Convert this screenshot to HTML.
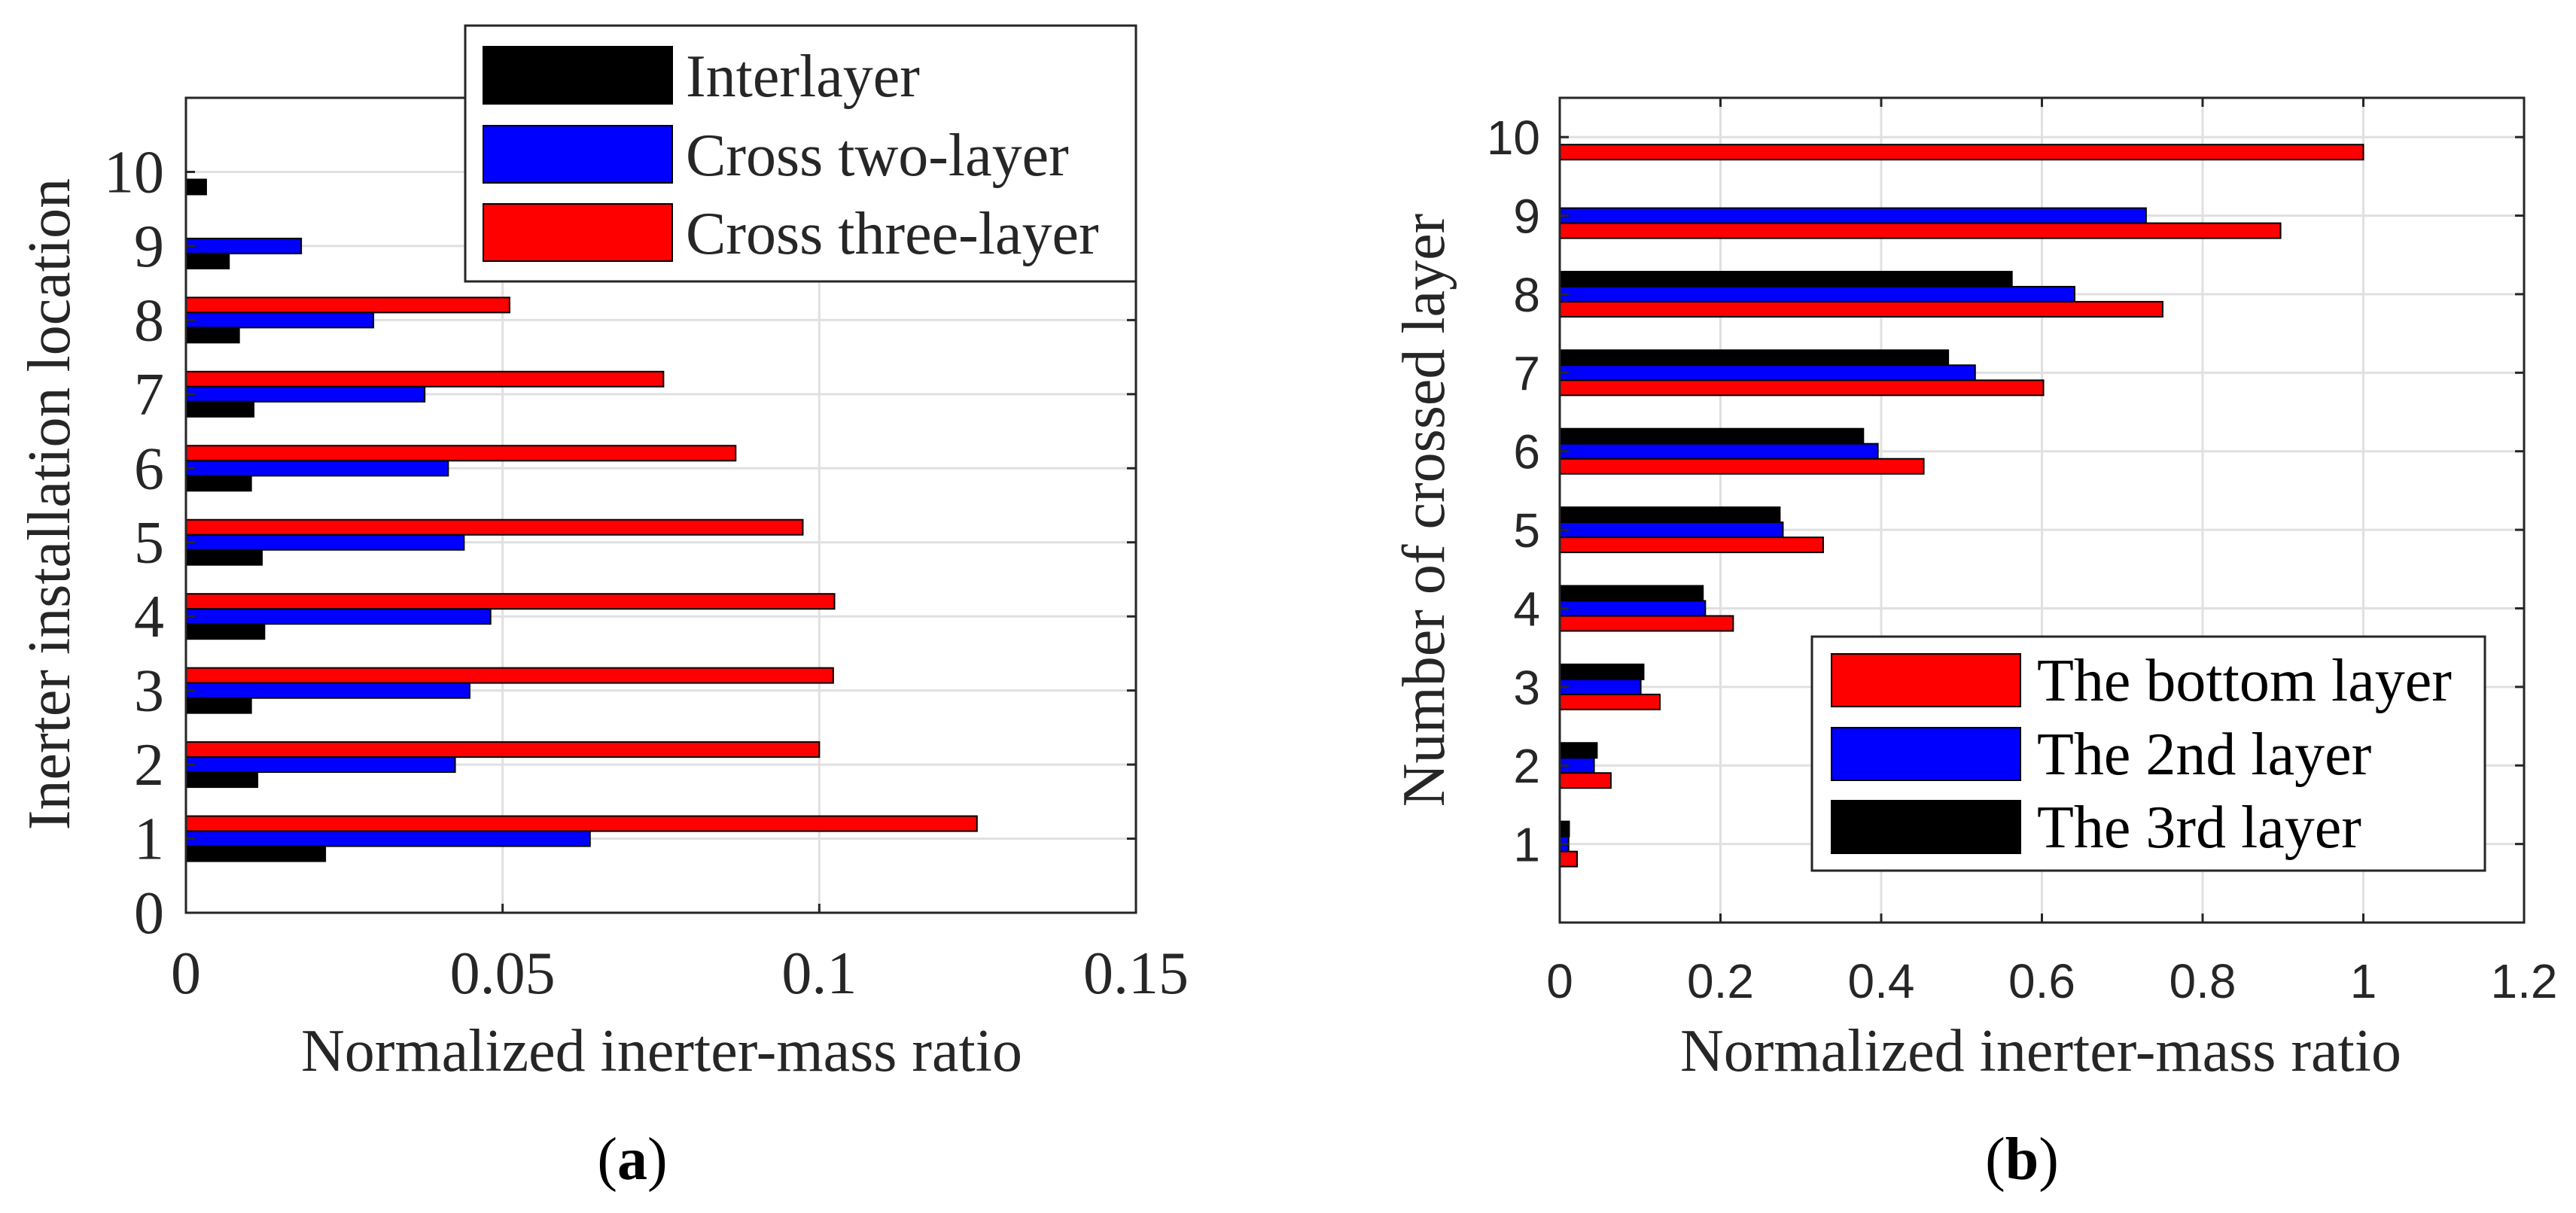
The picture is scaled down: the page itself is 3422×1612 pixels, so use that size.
<!DOCTYPE html>
<html><head><meta charset="utf-8"><style>
html,body{margin:0;padding:0;background:#fff;}
svg{display:block;}
text{font-family:"Liberation Serif",serif;fill:#262626;}
.sans{font-family:"Liberation Sans",sans-serif;}
</style></head><body>
<svg id="fig" width="3422" height="1612" viewBox="0 0 3422 1612" xmlns="http://www.w3.org/2000/svg">
<g id="chartA"></g>
<g id="chartB"></g>
</svg>
<script>
const catsA = [1,2,3,4,5,6,7,8,9,10];
const interlayerA = [0.0220,0.0113,0.0103,0.0124,0.0120,0.0103,0.0107,0.0084,0.0068,0.0032];
const crossTwoA = [0.0638,0.0425,0.0448,0.0481,0.0439,0.0414,0.0377,0.0296,0.0182,0];
const crossThreeA = [0.1249,0.1000,0.1022,0.1024,0.0974,0.0868,0.0754,0.0511,0,0];
const xTicksA = [0,0.05,0.1,0.15];
const xTickLabelsA = ["0","0.05","0.1","0.15"];
const yTicksA = [0,1,2,3,4,5,6,7,8,9,10];

const catsB = [1,2,3,4,5,6,7,8,9,10];
const bottomB = [0.0216,0.0636,0.1246,0.2158,0.3278,0.453,0.6019,0.7503,0.8970,1.0];
const secondB = [0.011,0.0427,0.1008,0.1811,0.2777,0.3959,0.5169,0.6407,0.7296,0];
const thirdB = [0.0117,0.0463,0.1044,0.1782,0.2739,0.3778,0.4835,0.5627,0,0];
const xTicksB = [0,0.2,0.4,0.6,0.8,1,1.2];
const xTickLabelsB = ["0","0.2","0.4","0.6","0.8","1","1.2"];
const yTicksB = [1,2,3,4,5,6,7,8,9,10];

const NS="http://www.w3.org/2000/svg";
function mk(parent,tag,attrs,txt){const e=document.createElementNS(NS,tag);for(const k in attrs)e.setAttribute(k,attrs[k]);if(txt!==undefined)e.textContent=txt;parent.appendChild(e);return e;}

// ---------- Chart A ----------
(function(){
const g=document.getElementById('chartA');
const L=247,R=1509,T=130,B=1213,xmax=0.15,ymax=11;
const sx=v=>L+v/xmax*(R-L), sy=v=>B-v/ymax*(B-T);
const bw=20;
// grid
xTicksA.forEach(v=>{if(v>0&&v<xmax){const l=mk(g,'line',{x1:sx(v),x2:sx(v),y1:T,y2:B,stroke:'#e0e0e0','stroke-width':3});

}});
yTicksA.forEach(v=>{if(v>0){const l=mk(g,'line',{x1:L,x2:R,y1:sy(v),y2:sy(v),stroke:'#e0e0e0','stroke-width':3});

}});
// bars: red top, blue middle, black bottom
const series=[[crossThreeA,'#ff0000',-1,'bar-cross-three-layer'],[crossTwoA,'#0000ff',0,'bar-cross-two-layer'],[interlayerA,'#000000',1,'bar-interlayer']];
series.forEach(([vals,col,off,nm])=>{catsA.forEach((c,i)=>{const v=vals[i];if(v<=0)return;
const y=sy(c)+off*bw-bw/2;
const r=mk(g,'rect',{x:sx(0),y:y,width:sx(v)-sx(0),height:bw,fill:col,stroke:'#000','stroke-width':2});

});});
// frame
const f=mk(g,'rect',{x:L,y:T,width:R-L,height:B-T,fill:'none',stroke:'#262626','stroke-width':3});


// ticks
xTicksA.forEach((v,i)=>{mk(g,'line',{x1:sx(v),x2:sx(v),y1:B,y2:B-12,stroke:'#262626','stroke-width':3});mk(g,'line',{x1:sx(v),x2:sx(v),y1:T,y2:T+12,stroke:'#262626','stroke-width':3});
const t=mk(g,'text',{x:sx(v),y:1320,'text-anchor':'middle','font-size':80},xTickLabelsA[i]);

});
yTicksA.forEach(v=>{mk(g,'line',{x1:L,x2:L+12,y1:sy(v),y2:sy(v),stroke:'#262626','stroke-width':3});mk(g,'line',{x1:R,x2:R-12,y1:sy(v),y2:sy(v),stroke:'#262626','stroke-width':3});
const t=mk(g,'text',{x:218,y:sy(v)+27,'text-anchor':'end','font-size':80},String(v));

});
})();

// ---------- Chart B ----------
(function(){
const g=document.getElementById('chartB');
const L=2072,R=3353,T=130,B=1226,xmax=1.2,ymax=10.5;
const sx=v=>L+v/xmax*(R-L), sy=v=>B-v/ymax*(B-T);
const bw=20;
xTicksB.forEach(v=>{if(v>0&&v<xmax){const l=mk(g,'line',{x1:sx(v),x2:sx(v),y1:T,y2:B,stroke:'#e0e0e0','stroke-width':3});

}});
yTicksB.forEach(v=>{const l=mk(g,'line',{x1:L,x2:R,y1:sy(v),y2:sy(v),stroke:'#e0e0e0','stroke-width':3});

});
const series=[[thirdB,'#000000',-1,'bar-3rd-layer'],[secondB,'#0000ff',0,'bar-2nd-layer'],[bottomB,'#ff0000',1,'bar-bottom-layer']];
series.forEach(([vals,col,off,nm])=>{catsB.forEach((c,i)=>{const v=vals[i];if(v<=0)return;
const y=sy(c)+off*bw-bw/2;
const r=mk(g,'rect',{x:sx(0),y:y,width:sx(v)-sx(0),height:bw,fill:col,stroke:'#000','stroke-width':2});

});});
const f=mk(g,'rect',{x:L,y:T,width:R-L,height:B-T,fill:'none',stroke:'#262626','stroke-width':3});


xTicksB.forEach((v,i)=>{mk(g,'line',{x1:sx(v),x2:sx(v),y1:B,y2:B-12,stroke:'#262626','stroke-width':3});mk(g,'line',{x1:sx(v),x2:sx(v),y1:T,y2:T+12,stroke:'#262626','stroke-width':3});
const t=mk(g,'text',{x:sx(v),y:1326,'text-anchor':'middle','font-size':64,'class':'sans'},xTickLabelsB[i]);

});
yTicksB.forEach(v=>{mk(g,'line',{x1:L,x2:L+12,y1:sy(v),y2:sy(v),stroke:'#262626','stroke-width':3});mk(g,'line',{x1:R,x2:R-12,y1:sy(v),y2:sy(v),stroke:'#262626','stroke-width':3});
const t=mk(g,'text',{x:2046,y:sy(v)+23,'text-anchor':'end','font-size':64,'class':'sans'},String(v));

});
})();
</script>
<svg width="3422" height="1612" viewBox="0 0 3422 1612" xmlns="http://www.w3.org/2000/svg" style="position:absolute;left:0;top:0;">
<g>
<rect x="618" y="34" width="891" height="340" fill="#fff" stroke="#262626" stroke-width="3"/>
<rect x="642" y="62" width="251" height="76" fill="#000" stroke="#000" stroke-width="2"/>
<text x="911" y="128" font-size="80">Interlayer</text>
<rect x="642" y="167" width="251" height="76" fill="#0000ff" stroke="#000" stroke-width="2"/>
<text x="911" y="233" font-size="80">Cross two-layer</text>
<rect x="642" y="271" width="251" height="76" fill="#ff0000" stroke="#000" stroke-width="2"/>
<text x="911" y="337" font-size="80">Cross three-layer</text>
</g>
<text x="879" y="1423" text-anchor="middle" font-size="80" style="font-family:'Liberation Serif',serif;fill:#262626">Normalized inerter-mass ratio</text>
<text transform="translate(92,670) rotate(-90)" text-anchor="middle" font-size="80" style="font-family:'Liberation Serif',serif;fill:#262626">Inerter installation location</text>
<text x="840" y="1567" text-anchor="middle" font-size="80" style="font-family:'Liberation Serif',serif;fill:#000">(<tspan font-weight="bold">a</tspan>)</text>

<g>
<rect x="2407" y="846" width="894" height="311" fill="#fff" stroke="#262626" stroke-width="3"/>
<rect x="2433" y="869" width="251" height="70" fill="#ff0000" stroke="#000" stroke-width="2"/>
<text x="2706" y="931" font-size="80" style="font-family:'Liberation Serif',serif;fill:#000">The bottom layer</text>
<rect x="2433" y="967" width="251" height="70" fill="#0000ff" stroke="#000" stroke-width="2"/>
<text x="2706" y="1029" font-size="80" style="font-family:'Liberation Serif',serif;fill:#000">The 2nd layer</text>
<rect x="2433" y="1064" width="251" height="70" fill="#000" stroke="#000" stroke-width="2"/>
<text x="2706" y="1126" font-size="80" style="font-family:'Liberation Serif',serif;fill:#000">The 3rd layer</text>
</g>
<text x="2711" y="1423" text-anchor="middle" font-size="80" style="font-family:'Liberation Serif',serif;fill:#262626">Normalized inerter-mass ratio</text>
<text transform="translate(1918,678) rotate(-90)" text-anchor="middle" font-size="80" style="font-family:'Liberation Serif',serif;fill:#262626">Number of crossed layer</text>
<text x="2686" y="1567" text-anchor="middle" font-size="80" style="font-family:'Liberation Serif',serif;fill:#000">(<tspan font-weight="bold">b</tspan>)</text>
</svg>
</body></html>
